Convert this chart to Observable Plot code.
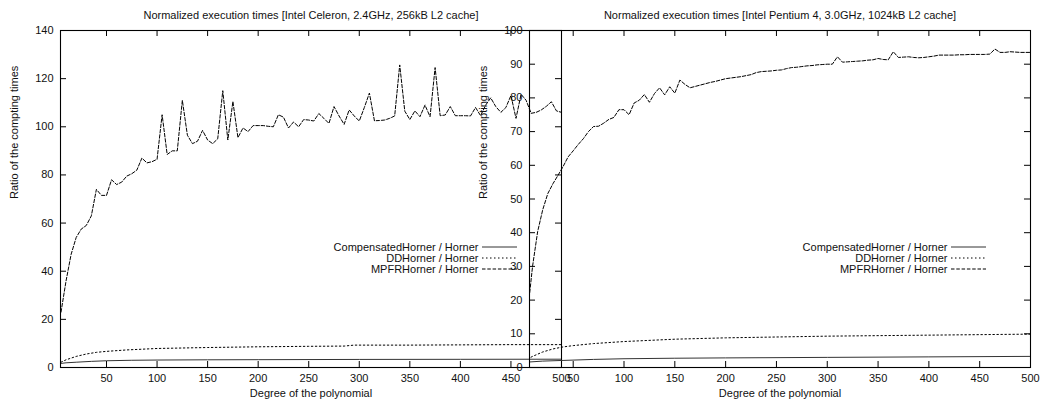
<!DOCTYPE html>
<html><head><meta charset="utf-8">
<script src="https://cdn.jsdelivr.net/npm/d3@7"></script>
<script src="https://cdn.jsdelivr.net/npm/@observablehq/plot@0.6"></script>
<style>
html,body{margin:0;padding:0;background:#fff;}
#chart{position:relative;width:1047px;height:406px;}
#chart svg{position:absolute;left:0;top:0;}
</style></head><body><div id="chart"></div>
<script>
// ---- data ----
const degrees = d3.range(5, 501, 5);
const celeronMPFR = [23,36,47,54,57.5,59,63,74,71.5,71.5,
78,76,77,79.5,80.5,82,87,85,85.5,86.5,
105,88.5,90,90,111,96.5,93,94,98.5,94.5,
93,95,115,94.5,110.5,95.5,99.5,98,100.5,100.5,
100.5,100.2,100,105,104,99.5,102,100,103,102.8,
102.4,105.5,103.5,101.4,108.4,104.5,101,107,104.5,102.4,
108,114,102.5,102.6,102.8,103.5,104.5,125.7,106.5,103,
106.6,104.2,109,104.2,124.6,104.6,104.9,108.4,104.6,104.6,
104.6,104.5,108,104.6,109,112,108.4,106,108,113,
103.5,113.5,111,105.6,106,107,108.5,110.4,106.6,106];
const pentiumMPFR = [16,30,40.3,46.8,51.6,54.5,57,59.6,62.5,64.3,
66.2,67.9,70,71.5,71.6,72.5,73.6,74.2,76.5,76.5,
75,78.5,79.3,81,78.7,81.3,83,80.9,83.3,81.4,
85.3,84,83,83.4,83.8,84.2,84.6,84.9,85.3,85.7,
85.9,86.1,86.3,86.6,86.9,87.5,87.8,87.9,88,88.2,
88.3,88.7,89,89.1,89.3,89.5,89.6,89.8,89.9,90,
90,92.2,90.6,90.7,90.8,90.9,91,91.2,91.3,91.7,
91.4,91.3,93.7,92,92.1,92.2,92,91.9,92,92.2,
92.4,92.7,92.7,92.7,92.7,92.8,92.8,92.9,92.9,92.9,
92.9,93,94.5,93.5,93.5,93.7,93.6,93.5,93.5,93.5];
const celeronCHx = [5,10,20,35,50,75,100,150,200,300,400,500];
const celeronCH  = [1.7,1.95,2.2,2.55,2.8,3.0,3.1,3.2,3.25,3.35,3.4,3.45];
const celeronDDx = [5,10,20,30,40,50,70,100,150,200,250,285,295,350,400,450,500];
const celeronDD  = [2.2,3.2,4.6,5.6,6.3,6.7,7.3,7.9,8.3,8.6,8.8,8.9,9.3,9.3,9.4,9.5,9.5];
const pentiumCHx = [5,20,40,70,100,150,200,300,400,500];
const pentiumCH  = [1.6,1.9,2.1,2.4,2.6,2.75,2.85,3.0,3.15,3.3];
const pentiumDDx = [5,10,20,30,40,50,70,100,150,200,250,300,350,400,450,500];
const pentiumDD  = [2.5,3.3,4.6,5.5,6.1,6.5,7.1,7.7,8.4,8.8,9.05,9.3,9.45,9.6,9.75,9.9];

const xTicks = [50,100,150,200,250,300,350,400,450,500];
const celeronYTicks = [0,20,40,60,80,100,120,140];
const pentiumYTicks = [0,10,20,30,40,50,60,70,80,90,100];
const seriesNames = ["CompensatedHorner / Horner", "DDHorner / Horner", "MPFRHorner / Horner"];
const titles = ["Normalized execution times [Intel Celeron, 2.4GHz, 256kB L2 cache]",
                "Normalized execution times [Intel Pentium 4, 3.0GHz, 1024kB L2 cache]"];
const xLabel = "Degree of the polynomial";
const yLabel = "Ratio of the compting times";

const zip = (xs, ys) => xs.map((x, i) => ({x, y: ys[i]}));

const W = 1047, H = 406, mTop = 30, mBottom = 39;
const styles = [
  {stroke: "#333", strokeDasharray: null},
  {stroke: "#000", strokeDasharray: "1.5,2.5"},
  {stroke: "#000", strokeDasharray: "3.5,1.8"}
];

function panel({title, xDomain, yDomain, yTicks, mLeft, mRight, data}) {
  const ph = H - mTop - mBottom, pw = W - mLeft - mRight;
  const legendRows = [216.5, 227.5, 238.5];
  const legendTextDx = -83;
  const sx1 = pw - 79, sx2 = 44;
  return Plot.plot({
    width: W, height: H,
    marginLeft: mLeft, marginRight: mRight, marginTop: mTop, marginBottom: mBottom,
    style: {background: "transparent", fontFamily: "'Liberation Sans', Arial, Helvetica, sans-serif", fontSize: "11px", color: "#111", overflow: "visible"},
    x: {domain: xDomain, label: null},
    y: {domain: yDomain, label: null},
    marks: [
      ...data.map((d, i) => Plot.line(d, {x: "x", y: "y", stroke: styles[i].stroke, strokeWidth: 1, strokeDasharray: styles[i].strokeDasharray, clip: true})),
      Plot.frame({stroke: "#000", strokeWidth: 1.1}),
      Plot.ruleX(xTicks, {insetTop: ph - 6, stroke: "#000"}),
      Plot.ruleX(xTicks, {insetBottom: ph - 6, stroke: "#000"}),
      Plot.ruleY(yTicks, {insetRight: pw - 6, stroke: "#000"}),
      Plot.ruleY(yTicks, {insetLeft: pw - 6, stroke: "#000"}),
      Plot.axisX(xTicks, {tickSize: 0, tickPadding: 7, label: null}),
      Plot.axisY(yTicks, {tickSize: 0, tickPadding: 7, label: null}),
      Plot.text([title], {frameAnchor: "top", lineAnchor: "middle", dy: -15}),
      Plot.text([xLabel], {frameAnchor: "bottom", lineAnchor: "middle", dy: 26}),
      Plot.text([yLabel], {frameAnchor: "left", lineAnchor: "middle", dx: -46, rotate: -90}),
      ...seriesNames.map((s, i) => Plot.text([s], {frameAnchor: "top-right", textAnchor: "end", lineAnchor: "middle", dx: legendTextDx, dy: legendRows[i]})),
      ...seriesNames.map((s, i) => Plot.ruleY([yDomain[0]], {dy: legendRows[i] - ph, insetLeft: sx1, insetRight: sx2, stroke: styles[i].stroke, strokeDasharray: styles[i].strokeDasharray}))
    ]
  });
}

const left = panel({
  title: titles[0], xDomain: [4.5, 500], yDomain: [0, 140], yTicks: celeronYTicks,
  mLeft: 60, mRight: 486,
  data: [zip(celeronCHx, celeronCH), zip(celeronDDx, celeronDD), zip(degrees, celeronMPFR)]
});
const right = panel({
  title: titles[1], xDomain: [7, 500], yDomain: [0, 100], yTicks: pentiumYTicks,
  mLeft: 529, mRight: 17,
  data: [zip(pentiumCHx, pentiumCH), zip(pentiumDDx, pentiumDD), zip(degrees, pentiumMPFR)]
});
const host = document.getElementById("chart");
host.appendChild(left);
host.appendChild(right);
</script></body></html>
